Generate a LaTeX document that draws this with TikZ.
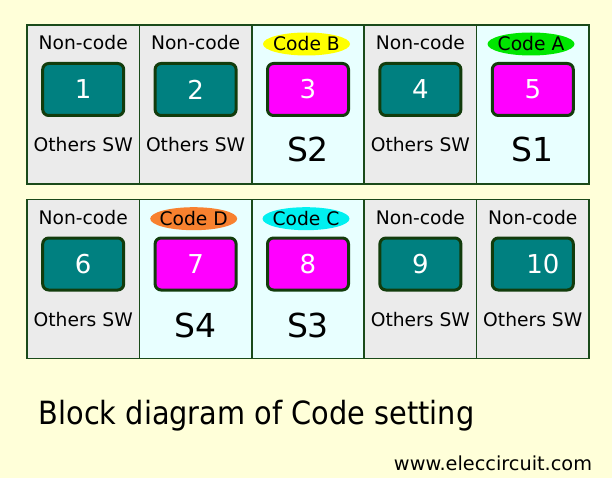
\documentclass[tikz,border=0pt]{standalone}
\usepackage{fontspec}
\setmainfont{DejaVu Sans}
\usetikzlibrary{shapes.geometric}
\definecolor{bg}{HTML}{FFFFD9}
\definecolor{grayc}{HTML}{EBEBEB}
\definecolor{cyanc}{HTML}{E8FFFF}
\definecolor{dkg}{HTML}{1A4A1A}
\definecolor{boxb}{HTML}{123C0C}
\definecolor{tealc}{HTML}{008080}
\definecolor{mag}{HTML}{FF00FF}
\definecolor{cA}{HTML}{00E600}
\definecolor{cB}{HTML}{FFFF00}
\definecolor{cC}{HTML}{00F0F0}
\definecolor{cD}{HTML}{F8812F}
\begin{document}
\begin{tikzpicture}[x=1pt,y=-1pt,
 cell/.style={draw=dkg, line width=1.5pt, minimum width=112.4pt, minimum height=159pt, inner sep=0pt},
 swbox/.style={draw=boxb, line width=3pt, rounded corners=6pt, minimum width=81pt, minimum height=52pt, inner sep=0pt, text=white, font=\fontsize{26}{28}\selectfont},
 lbl/.style={font=\fontsize{18.7}{20}\selectfont, inner sep=0pt},
 big/.style={font=\fontsize{33}{36}\selectfont, inner sep=0pt},
 codeell/.style={ellipse, minimum width=87pt, minimum height=23pt, inner sep=0pt}]
\fill[bg] (0,0) rectangle (612,478);
\useasboundingbox (0,0) rectangle (612,478);
% row 1 cells
\node[cell, fill=grayc] (c1) at (83.2,104.5) {};
\node[cell, fill=grayc] (c2) at (195.6,104.5) {};
\node[cell, fill=cyanc] (c3) at (308,104.5) {};
\node[cell, fill=grayc] (c4) at (420.4,104.5) {};
\node[cell, fill=cyanc] (c5) at (532.8,104.5) {};
% row 2 cells
\node[cell, fill=grayc] (c6) at (83.2,279) {};
\node[cell, fill=cyanc] (c7) at (195.6,279) {};
\node[cell, fill=cyanc] (c8) at (308,279) {};
\node[cell, fill=grayc] (c9) at (420.4,279) {};
\node[cell, fill=grayc] (c10) at (532.8,279) {};
% switch boxes
\node[swbox, fill=tealc] (b1) at (83.2,89.5) {1};
\node[swbox, fill=tealc] (b2) at (195.6,89.5) {2};
\node[swbox, fill=mag] (b3) at (308,89.5) {3};
\node[swbox, fill=tealc] (b4) at (420.4,89.5) {4};
\node[swbox, fill=mag] (b5) at (532.8,89.5) {5};
\node[swbox, fill=tealc] (b6) at (83.2,264) {6};
\node[swbox, fill=mag] (b7) at (195.6,264) {7};
\node[swbox, fill=mag] (b8) at (308,264) {8};
\node[swbox, fill=tealc] (b9) at (420.4,264) {9};
\node[swbox, fill=tealc] (b10) at (532.8,264) {\hspace*{20pt}10};
% top labels row 1
\node[lbl] (n1) at (83.2,43) {Non-code};
\node[lbl] (n2) at (195.6,43) {Non-code};
\node[codeell, fill=cB] (e3) at (306.5,44) {};
\node[lbl] (t3) at (e3) {Code B};
\node[lbl] (n4) at (420.4,43) {Non-code};
\node[codeell, fill=cA] (e5) at (531,44) {};
\node[lbl] (t5) at (e5) {Code A};
% bottom labels row 1
\node[lbl] (o1) at (83.2,145) {Others SW};
\node[lbl] (o2) at (195.6,145) {Others SW};
\node[big] (s3) at (308,149) {S2};
\node[lbl] (o4) at (420.4,145) {Others SW};
\node[big] (s5) at (532.8,149) {S1};
% top labels row 2
\node[lbl] (n6) at (83.2,218) {Non-code};
\node[codeell, fill=cD] (e7) at (193.7,218.7) {};
\node[lbl] (t7) at (e7) {Code D};
\node[codeell, fill=cC] (e8) at (306,218.7) {};
\node[lbl] (t8) at (e8) {Code C};
\node[lbl] (n9) at (420.4,218) {Non-code};
\node[lbl] (n10) at (532.8,218) {Non-code};
% bottom labels row 2
\node[lbl] (o6) at (83.2,320) {Others SW};
\node[big] (s7) at (195.6,325) {S4};
\node[big] (s8) at (308,325) {S3};
\node[lbl] (o9) at (420.4,320) {Others SW};
\node[lbl] (o10) at (532.8,320) {Others SW};
% title and url
\node[anchor=base, inner sep=0pt, font=\fontsize{32}{36}\selectfont] (title) at (256.5,424) {\scalebox{0.9}[1]{Block diagram of Code setting}};
\node[inner sep=0pt, font=\fontsize{19.3}{21}\selectfont] (url) at (493,463) {www.eleccircuit.com};
\end{tikzpicture}
\end{document}
